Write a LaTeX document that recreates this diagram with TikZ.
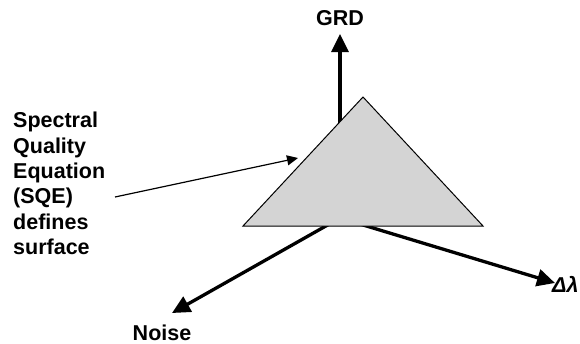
\documentclass[tikz,border=0pt]{standalone}
\usepackage{fontspec}
\setmainfont{Liberation Sans}
\usetikzlibrary{calc,positioning,arrows.meta}
\definecolor{surfgray}{HTML}{D4D4D4}

\begin{document}
\begin{tikzpicture}[x=1pt, y=-1pt,
	axis/.style={line width=3.3pt, -{Triangle[length=18pt, width=17pt]}},
	pointer/.style={line width=1.2pt, -{Triangle[length=11pt, width=10pt]}},
	lbl/.style={font=\fontsize{21.5}{25.4}\selectfont\bfseries, inner sep=0pt}]
\useasboundingbox (0,0) rectangle (580,343);

				\coordinate (orig)   at (340, 218);
				\coordinate (grdtip) at (340,  34);
				\coordinate (dltip)  at (555, 283);
				\coordinate (nstip)  at (172, 313);
				
				\coordinate (apex)  at (363,  97);
				\coordinate (bl)    at (243, 226);
				\coordinate (br)    at (483, 226);
				
				\coordinate (ptrfrom) at (115, 197);
				\coordinate (ptrto)   at (298, 158);

% axes
\draw[axis] (orig) -- (grdtip);
\draw[axis] (orig) -- (dltip);
\draw[axis] (orig) -- (nstip);

% SQE surface
\draw[fill=surfgray, line width=1pt, line join=miter] (apex) -- (br) -- (bl) -- cycle;

\node[lbl, anchor=base] (grd) at (340, 25) {GRD};
\node[lbl, anchor=base west] (dl) at (552, 292) {\itshape Δλ};
\node[lbl, anchor=base] (noise) at (162, 340) {Noise};
\node[lbl, anchor=north west, align=left] (sqe) at (13, 112)
	{Spectral\\Quality\\Equation\\(SQE)\\defines\\surface};

\draw[pointer] (ptrfrom) -- (ptrto);

\end{tikzpicture}
\end{document}
